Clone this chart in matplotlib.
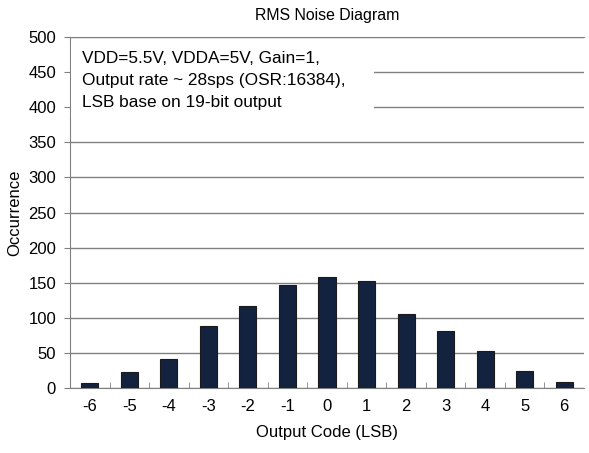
import matplotlib
matplotlib.use("Agg")
from matplotlib import pyplot as plt
from matplotlib.patches import Rectangle

# output code (LSB) and occurrence counts
codes = [-6, -5, -4, -3, -2, -1, 0, 1, 2, 3, 4, 5, 6]
counts = [7, 23, 41, 88, 117, 147, 158, 153, 106, 81, 52, 24, 8]
y_ticks = [0, 50, 100, 150, 200, 250, 300, 350, 400, 450, 500]
note_lines = ["VDD=5.5V, VDDA=5V, Gain=1,",
              "Output rate ~ 28sps (OSR:16384),",
              "LSB base on 19-bit output"]

plt.rcParams['font.family'] = ['Liberation Sans', 'DejaVu Sans']

fig = plt.figure(figsize=(5.89, 4.53), dpi=100)
ax = fig.add_axes([70 / 589, 1 - 388 / 453, 514 / 589, 351 / 453])

x = list(range(len(codes)))
ax.bar(x, counts, width=0.43, color='#13233f', edgecolor='#1a1a1a', linewidth=0.8, zorder=3)

ax.set_xlim(-0.5, len(codes) - 0.5)
ax.set_ylim(0, 500)
ax.set_yticks(y_ticks)
ax.set_yticklabels([str(v) for v in y_ticks], fontsize=12)
ax.set_xticks(x)
ax.set_xticklabels([str(c) for c in codes], fontsize=12)
ax.set_xticks([i + 0.5 for i in x[:-1]], minor=True)
ax.tick_params(axis='x', which='major', length=0, pad=8)
ax.tick_params(axis='x', which='minor', length=4, direction='in', color='#808080')
ax.tick_params(axis='y', length=4, color='#808080', pad=6)

ax.yaxis.grid(True, color='#808080', linewidth=1, zorder=0)
ax.spines['right'].set_visible(False)
for side in ['left', 'bottom', 'top']:
    ax.spines[side].set_color('#808080')

# white note box that hides the upper gridlines
box = Rectangle((0.002, 0.77), 0.59, 0.22, transform=ax.transAxes,
                facecolor='white', edgecolor='none', zorder=4)
ax.add_patch(box)
for i, line in enumerate(note_lines):
    ax.text(0.024, 0.94 - i * 0.063, line, transform=ax.transAxes,
            fontsize=12.4, va='center', ha='left', zorder=5)

ax.set_title("RMS Noise Diagram", fontsize=11.4, pad=12)
ax.set_xlabel("Output Code (LSB)", fontsize=12, labelpad=8)
ax.set_ylabel("Occurrence", fontsize=12, labelpad=4)

fig.savefig("out.png", dpi=100)
